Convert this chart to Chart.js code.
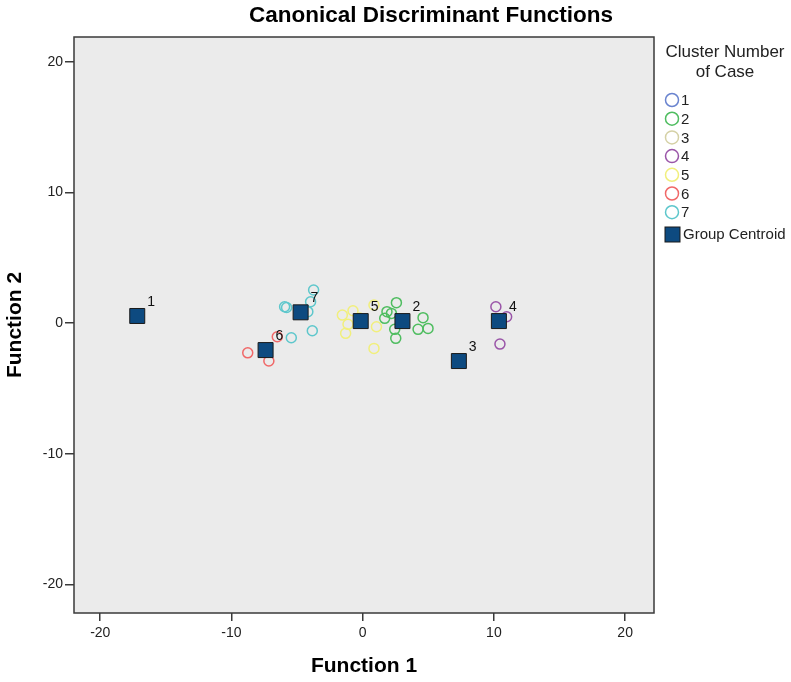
<!DOCTYPE html>
<html>
<head>
<meta charset="utf-8">
<script src="https://cdn.jsdelivr.net/npm/chart.js@4"></script>
<style>
html, body { margin: 0; padding: 0; background: #fff; }
</style>
</head>
<body>
<canvas id="chart" width="791" height="682"></canvas>
<script>
const clusterNames = ['1', '2', '3', '4', '5', '6', '7'];
const clusterColors = ['#6a84cf', '#4fbd60', '#d5d1a6', '#9a55a8', '#f1ef7c', '#f06868', '#5ec7cc'];

// case scores per cluster (function 1, function 2)
const cluster1X = [-17.18];
const cluster1Y = [0.54];
const cluster2X = [2.57, 1.85, 1.68, 2.19, 2.44, 2.52, 4.60, 4.22, 4.98];
const cluster2Y = [1.56, 0.87, 0.36, 0.74, -0.48, -1.17, 0.41, -0.48, -0.41];
const cluster3X = [7.33];
const cluster3Y = [-2.91];
const cluster4X = [10.15, 10.97, 10.46];
const cluster4Y = [1.25, 0.48, -1.61];
const cluster5X = [-1.55, -0.74, -1.12, -1.30, 1.05, 0.86, 0.86, -0.23];
const cluster5Y = [0.61, 0.94, -0.10, -0.79, -0.28, -1.94, 1.38, 0.38];
const cluster6X = [-8.76, -7.15, -6.51];
const cluster6Y = [-2.28, -2.91, -1.05];
const cluster7X = [-3.74, -3.97, -5.95, -5.80, -4.18, -3.84, -5.44];
const cluster7Y = [2.53, 1.63, 1.25, 1.19, 0.87, -0.59, -1.13];

const centroidX = [-17.18, 3.03, 7.33, 10.38, -0.15, -7.40, -4.73];
const centroidY = [0.54, 0.15, -2.91, 0.15, 0.15, -2.07, 0.82];

const xTicks = [-20, -10, 0, 10, 20];
const yTicks = [-20, -10, 0, 10, 20];

const clusterXs = [cluster1X, cluster2X, cluster3X, cluster4X, cluster5X, cluster6X, cluster7X];
const clusterYs = [cluster1Y, cluster2Y, cluster3Y, cluster4Y, cluster5Y, cluster6Y, cluster7Y];

function toPoints(xs, ys) {
    return xs.map((x, i) => ({ x: x, y: ys[i] }));
}

const datasets = clusterNames.map((name, i) => ({
    label: name,
    data: toPoints(clusterXs[i], clusterYs[i]),
    pointStyle: 'circle',
    pointRadius: 5,
    pointHoverRadius: 5,
    pointBorderWidth: 1.5,
    borderColor: clusterColors[i],
    backgroundColor: 'rgba(0,0,0,0)',
    order: 1
}));

datasets.push({
    label: 'Group Centroid',
    data: toPoints(centroidX, centroidY),
    pointStyle: 'rect',
    pointRadius: 10.6,
    pointHoverRadius: 10.6,
    pointBorderWidth: 1,
    borderColor: '#1a1a1a',
    backgroundColor: '#0d4a80',
    order: 0
});

const FONT = '"Liberation Sans", Arial, sans-serif';

const framePlugin = {
    id: 'frame',
    beforeDraw(chart) {
        const a = chart.chartArea;
        const ctx = chart.ctx;
        ctx.save();
        ctx.fillStyle = '#ebebeb';
        ctx.fillRect(a.left, a.top, a.right - a.left, a.bottom - a.top);
        ctx.restore();
    },
    afterDraw(chart) {
        const a = chart.chartArea;
        const ctx = chart.ctx;
        ctx.save();
        ctx.strokeStyle = '#3a3a3a';
        ctx.lineWidth = 1.5;
        ctx.strokeRect(a.left, a.top, a.right - a.left, a.bottom - a.top);

        // chart title
        ctx.fillStyle = '#000';
        ctx.font = 'bold 22.5px ' + FONT;
        ctx.textAlign = 'center';
        ctx.textBaseline = 'middle';
        ctx.fillText('Canonical Discriminant Functions', 431, 16);

        // centroid labels
        const xs = chart.scales.x, ys = chart.scales.y;
        ctx.font = '14px ' + FONT;
        ctx.fillStyle = '#111';
        ctx.textAlign = 'left';
        centroidX.forEach((v, i) => {
            const px = xs.getPixelForValue(v);
            const py = ys.getPixelForValue(centroidY[i]);
            ctx.fillText(clusterNames[i], px + 10, py - 14);
        });

        // legend
        ctx.fillStyle = '#222';
        ctx.font = '17px ' + FONT;
        ctx.textAlign = 'center';
        ctx.fillText('Cluster Number', 725, 52);
        ctx.fillText('of Case', 725, 72);
        ctx.font = '15px ' + FONT;
        ctx.textAlign = 'left';
        clusterNames.forEach((name, i) => {
            const y = 100 + i * 18.7;
            ctx.beginPath();
            ctx.arc(672, y, 6.5, 0, Math.PI * 2);
            ctx.strokeStyle = clusterColors[i];
            ctx.lineWidth = 1.5;
            ctx.stroke();
            ctx.fillStyle = '#222';
            ctx.fillText(name, 681, y + 1);
        });
        ctx.fillStyle = '#0d4a80';
        ctx.fillRect(665, 227, 15, 15);
        ctx.strokeStyle = '#1a1a1a';
        ctx.lineWidth = 1;
        ctx.strokeRect(665, 227, 15, 15);
        ctx.fillStyle = '#222';
        ctx.fillText('Group Centroid', 683, 235);
        ctx.restore();
    }
};

new Chart(document.getElementById('chart'), {
    type: 'scatter',
    data: { datasets: datasets },
    options: {
        responsive: false,
        animation: false,
        layout: {
            padding: { left: 0, top: 37, right: 137, bottom: 0 }
        },
        plugins: {
            legend: { display: false },
            tooltip: { enabled: false }
        },
        scales: {
            x: {
                type: 'linear',
                min: -22,
                max: 22.2,
                afterBuildTicks: function(scale) {
                    scale.ticks = xTicks.map(v => ({ value: v }));
                },
                afterFit: function(scale) {
                    scale.height = 69;
                },
                border: { display: false },
                grid: {
                    drawOnChartArea: false,
                    drawTicks: true,
                    tickLength: 8,
                    color: '#3a3a3a',
                    lineWidth: 1.5
                },
                ticks: {
                    color: '#222',
                    padding: 4,
                    maxRotation: 0,
                    font: { family: FONT, size: 14 }
                },
                title: {
                    display: true,
                    text: 'Function 1',
                    color: '#000',
                    padding: { top: 0, bottom: 3 },
                    font: { family: FONT, size: 21, weight: 'bold' }
                }
            },
            y: {
                type: 'linear',
                min: -22.2,
                max: 21.9,
                afterBuildTicks: function(scale) {
                    scale.ticks = yTicks.map(v => ({ value: v }));
                },
                afterFit: function(scale) {
                    scale.width = 74;
                },
                border: { display: false },
                grid: {
                    drawOnChartArea: false,
                    drawTicks: true,
                    tickLength: 9,
                    color: '#3a3a3a',
                    lineWidth: 1.5
                },
                ticks: {
                    color: '#222',
                    padding: 2,
                    font: { family: FONT, size: 14 }
                },
                title: {
                    display: true,
                    text: 'Function 2',
                    color: '#000',
                    padding: { top: 3, bottom: 0 },
                    font: { family: FONT, size: 21, weight: 'bold' }
                }
            }
        }
    },
    plugins: [framePlugin]
});
</script>
</body>
</html>
